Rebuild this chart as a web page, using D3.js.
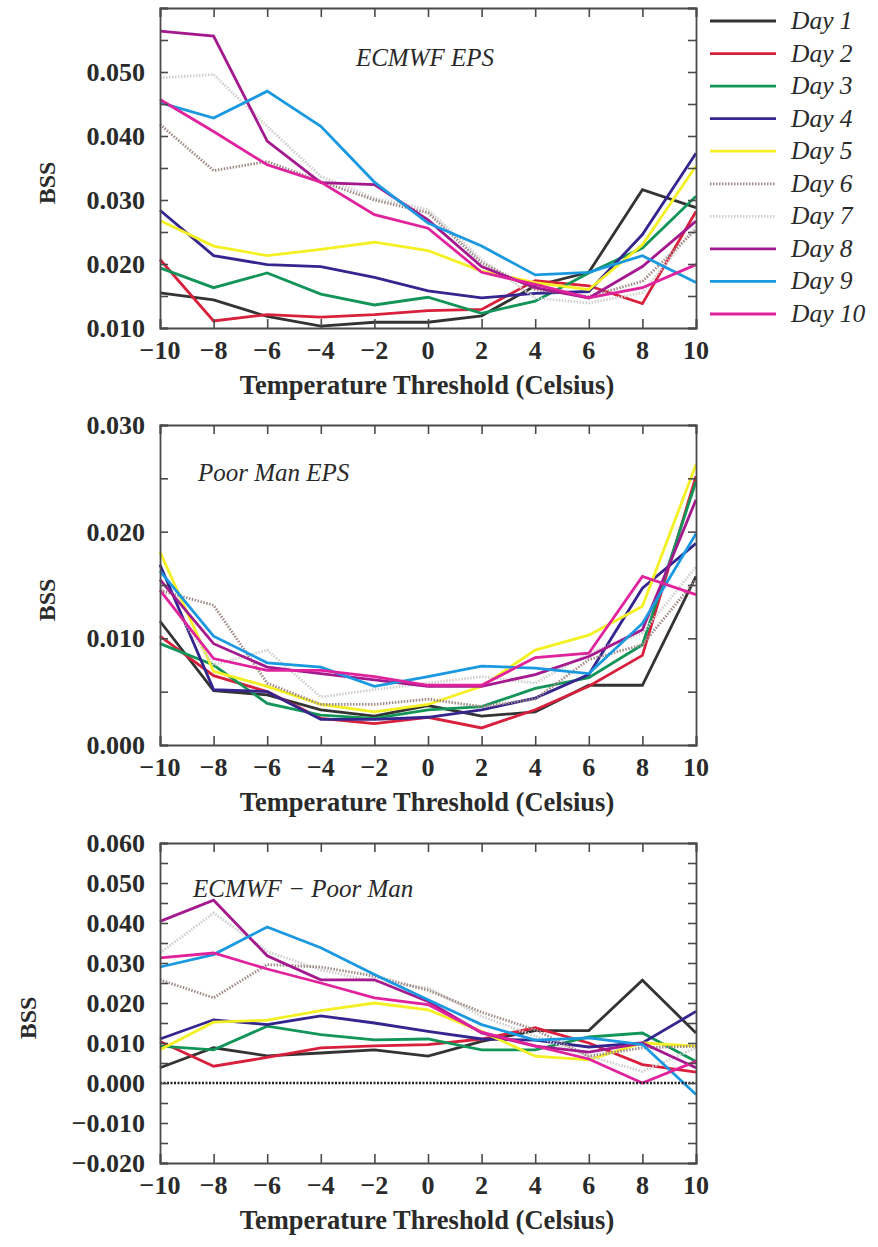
<!DOCTYPE html>
<html><head><meta charset="utf-8">
<script src="https://cdn.jsdelivr.net/npm/d3@7"></script>
<style>body{margin:0;background:#fff}svg{display:block}</style>
</head><body>
<svg id="chart" width="878" height="1247"></svg>
<script>
const thresholds = [-10,-8,-6,-4,-2,0,2,4,6,8,10];
const dayNames = ["Day 1","Day 2","Day 3","Day 4","Day 5","Day 6","Day 7","Day 8","Day 9","Day 10"];
const dayColors = ["#333333","#d8203c","#13955a","#34258f","#f4f024","#a08a86","#cfcfcf","#a4198e","#1a98e0","#e0229c"];
const dayDash = [null,null,null,null,null,"1.5,1.5","1.5,1.5",null,null,null];

// Panel 1: ECMWF EPS
const ecmwf = [
 [0.0155,0.0144,0.0118,0.0103,0.0109,0.0109,0.0119,0.0166,0.0187,0.0316,0.0288],
 [0.0207,0.0111,0.0121,0.0117,0.0121,0.0127,0.0129,0.0174,0.0166,0.0138,0.0282],
 [0.0194,0.0163,0.0186,0.0153,0.0136,0.0148,0.0123,0.0142,0.0186,0.0225,0.0306],
 [0.0284,0.0213,0.0199,0.0196,0.0179,0.0158,0.0147,0.0154,0.0157,0.0246,0.0373],
 [0.0268,0.0228,0.0213,0.0223,0.0234,0.0221,0.0189,0.0171,0.0160,0.0230,0.0353],
 [0.0418,0.0346,0.0360,0.0329,0.0300,0.0280,0.0202,0.0160,0.0149,0.0173,0.0254],
 [0.0491,0.0496,0.0415,0.0337,0.0303,0.0285,0.0207,0.0147,0.0139,0.0155,0.0259],
 [0.0564,0.0556,0.0392,0.0327,0.0324,0.0269,0.0196,0.0163,0.0147,0.0196,0.0267],
 [0.0452,0.0428,0.0470,0.0415,0.0328,0.0264,0.0228,0.0183,0.0187,0.0213,0.0171],
 [0.0457,0.0407,0.0355,0.0328,0.0277,0.0256,0.0187,0.0168,0.0147,0.0163,0.0199]
];
// Panel 2: Poor Man EPS
const poorMan = [
 [0.0116,0.0051,0.0047,0.0033,0.0027,0.0037,0.0027,0.0031,0.0056,0.0056,0.0158],
 [0.0102,0.0065,0.0050,0.0025,0.0020,0.0026,0.0016,0.0033,0.0055,0.0084,0.0252],
 [0.0095,0.0075,0.0039,0.0028,0.0025,0.0033,0.0036,0.0053,0.0063,0.0094,0.0247],
 [0.0169,0.0052,0.0050,0.0024,0.0024,0.0026,0.0033,0.0044,0.0066,0.0147,0.0189],
 [0.0181,0.0069,0.0055,0.0038,0.0031,0.0038,0.0055,0.0089,0.0103,0.0130,0.0263],
 [0.0145,0.0131,0.0058,0.0038,0.0038,0.0043,0.0036,0.0043,0.0080,0.0094,0.0155],
 [0.0148,0.0075,0.0089,0.0045,0.0052,0.0058,0.0064,0.0058,0.0086,0.0105,0.0167],
 [0.0155,0.0095,0.0073,0.0067,0.0061,0.0055,0.0055,0.0066,0.0083,0.0108,0.0230],
 [0.0163,0.0102,0.0077,0.0073,0.0055,0.0064,0.0074,0.0072,0.0067,0.0114,0.0198],
 [0.0145,0.0081,0.0070,0.0070,0.0064,0.0056,0.0056,0.0082,0.0086,0.0158,0.0141]
];
// Panel 3: ECMWF - Poor Man
const difference = [
 [0.0038,0.0088,0.0068,0.0075,0.0083,0.0067,0.0104,0.0131,0.0131,0.0257,0.0125],
 [0.0104,0.0042,0.0064,0.0088,0.0093,0.0096,0.0110,0.0138,0.0100,0.0046,0.0027],
 [0.0092,0.0083,0.0142,0.0121,0.0108,0.0110,0.0083,0.0083,0.0115,0.0125,0.0054],
 [0.0110,0.0158,0.0146,0.0168,0.0150,0.0129,0.0110,0.0107,0.0090,0.0100,0.0179],
 [0.0083,0.0152,0.0157,0.0181,0.0200,0.0183,0.0129,0.0067,0.0058,0.0100,0.0092],
 [0.0258,0.0213,0.0296,0.0290,0.0267,0.0232,0.0177,0.0133,0.0067,0.0088,0.0092],
 [0.0325,0.0425,0.0329,0.0283,0.0254,0.0238,0.0167,0.0117,0.0067,0.0029,0.0088],
 [0.0404,0.0457,0.0318,0.0258,0.0258,0.0204,0.0125,0.0092,0.0077,0.0100,0.0038],
 [0.0290,0.0321,0.0390,0.0338,0.0271,0.0208,0.0146,0.0107,0.0113,0.0096,-0.0029],
 [0.0313,0.0325,0.0285,0.0250,0.0213,0.0196,0.0127,0.0093,0.0060,0.0000,0.0054]
];

const p1Ticks = [0.010,0.020,0.030,0.040,0.050];
const p2Ticks = [0.000,0.010,0.020,0.030];
const p3Ticks = [-0.020,-0.010,0.000,0.010,0.020,0.030,0.040,0.050,0.060];
const xTickLabels = thresholds;

const panels = [
  {data: ecmwf, domain:[0.010,0.060], labels:p1Ticks, title:"ECMWF EPS", top:8, bottom:328, titleX:425, titleY:66, anchor:"middle", bssX:46, zero:false},
  {data: poorMan, domain:[0.000,0.030], labels:p2Ticks, title:"Poor Man EPS", top:425, bottom:745, titleX:198, titleY:481, anchor:"start", bssX:46, zero:false},
  {data: difference, domain:[-0.020,0.060], labels:p3Ticks, title:"ECMWF \u2212 Poor Man", top:843, bottom:1163, titleX:193, titleY:897, anchor:"start", bssX:27, zero:true}
];

const svg = d3.select("#chart");
const left = 160, right = 696;
const font = "'Liberation Serif', 'Times New Roman', serif";
const frameColor = "#4a4a4a";
const textColor = "#2a2a2a";

panels.forEach(p => {
  const x = d3.scaleLinear().domain([-10,10]).range([left,right]);
  const y = d3.scaleLinear().domain(p.domain).range([p.bottom,p.top]);
  const g = svg.append("g");
  const minorY = d3.range(Math.round(p.domain[0]*1000), Math.round(p.domain[1]*1000)+1, 5).map(v=>v/1000);

  // Lines
  const line = d3.line().x((d,i)=>x(thresholds[i])).y(d=>y(d));
  const order = [0,1,2,3,4,6,5,7,8,9];
  order.forEach(k => {
    g.append("path").datum(p.data[k]).attr("d",line)
      .attr("fill","none").attr("stroke",dayColors[k])
      .attr("stroke-width", 2.8)
      .attr("stroke-dasharray", dayDash[k])
      .attr("stroke-linejoin","miter");
  });
  if (p.zero) {
    g.append("line").attr("x1",left).attr("x2",right).attr("y1",y(0)).attr("y2",y(0))
      .attr("stroke","#222").attr("stroke-width",2.4).attr("stroke-dasharray","2,1.5");
  }

  // Frame axes (ticks inside)
  const axB = d3.axisTop(x).tickValues(xTickLabels).tickSize(9).tickFormat("");
  const axT = d3.axisBottom(x).tickValues(xTickLabels).tickSize(9).tickFormat("");
  const axL = d3.axisRight(y).tickValues(minorY).tickSize(8).tickFormat("");
  const axR = d3.axisLeft(y).tickValues(minorY).tickSize(8).tickFormat("");
  [[axB,`translate(0,${p.bottom})`],[axT,`translate(0,${p.top})`],[axL,`translate(${left},0)`],[axR,`translate(${right},0)`]].forEach(([a,t])=>{
    const ag = g.append("g").attr("transform",t).call(a);
    ag.selectAll("path,line").attr("stroke",frameColor).attr("stroke-width",1.6);
    ag.select(".domain").attr("stroke-width",1.8);
  });

  // Tick labels
  const fmtY = v => (v<0?"\u2212":"") + Math.abs(v).toFixed(3);
  g.selectAll(".yl").data(p.labels).enter().append("text")
    .attr("x",145).attr("y",d=>y(d)).attr("dy","0.35em")
    .attr("text-anchor","end").attr("font-family",font).attr("font-weight","bold")
    .attr("font-size",26).attr("fill",textColor).text(fmtY);
  g.selectAll(".xl").data(xTickLabels).enter().append("text")
    .attr("x",d=>x(d)).attr("y",p.bottom+31)
    .attr("text-anchor","middle").attr("font-family",font).attr("font-weight","bold")
    .attr("font-size",26).attr("fill",textColor).text(d=>(d<0?"\u2212":"")+Math.abs(d));

  // Axis titles
  g.append("text").attr("x",427).attr("y",p.bottom+66).attr("text-anchor","middle")
    .attr("font-family",font).attr("font-weight","bold").attr("font-size",26.5).attr("fill",textColor)
    .text("Temperature Threshold (Celsius)");
  g.append("text").attr("transform",`translate(${p.bssX+9},${(p.top+p.bottom)/2+15}) rotate(-90)`)
    .attr("text-anchor","middle")
    .attr("font-family",font).attr("font-weight","bold").attr("font-size",24).attr("fill",textColor)
    .text("BSS");

  // Panel title
  g.append("text").attr("x",p.titleX).attr("y",p.titleY).attr("text-anchor",p.anchor)
    .attr("font-family",font).attr("font-style","italic").attr("font-size",25).attr("fill",textColor)
    .text(p.title);
});

// Legend
const lg = svg.append("g");
const legY = d3.scaleLinear().domain([0,9]).range([21,314]);
dayNames.forEach((n,i)=>{
  lg.append("line").attr("x1",710).attr("x2",776).attr("y1",legY(i)).attr("y2",legY(i))
    .attr("stroke",dayColors[i]).attr("stroke-width",2.8).attr("stroke-dasharray",dayDash[i]);
  lg.append("text").attr("x",791).attr("y",legY(i)+8)
    .attr("font-family",font).attr("font-style","italic").attr("font-size",25.5).attr("fill",textColor)
    .text(n);
});
</script>
</body></html>
